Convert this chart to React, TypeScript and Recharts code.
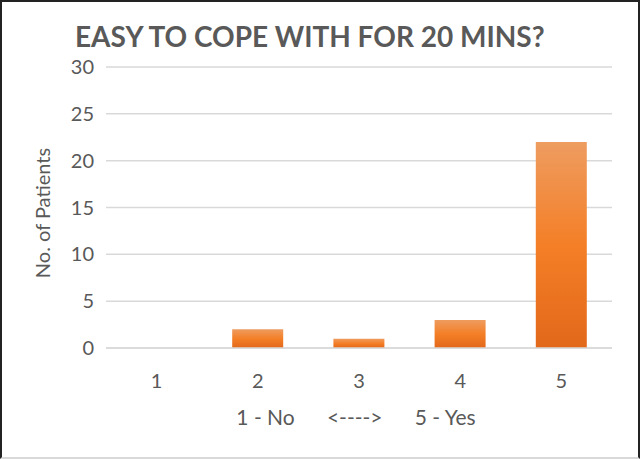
import { BarChart, Bar, XAxis, YAxis, CartesianGrid } from 'recharts'

const categories = ['1', '2', '3', '4', '5']
const patients = [0, 2, 1, 3, 22]
const yTicks = [0, 5, 10, 15, 20, 25, 30]

const data = categories.map((c, i) => ({ score: c, patients: patients[i] }))

const FONT = 'Lato, "Open Sans", sans-serif'
const GREY = '#595959'

export default function App() {
  return (
    <div
      style={{
        position: 'absolute',
        left: 0,
        top: 0,
        width: 640,
        height: 459,
        boxSizing: 'border-box',
        borderTop: '2px solid #222',
        borderLeft: '2px solid #222',
        borderRight: '2px solid #222',
        borderBottom: '2px solid #d9d9d9',
        background: '#fff',
        fontFamily: FONT,
      }}
    >
      <div
        style={{
          position: 'absolute',
          left: 73,
          top: 17,
          fontSize: 28,
          fontWeight: 700,
          color: GREY,
          whiteSpace: 'nowrap',
        }}
      >
        EASY TO COPE WITH FOR 20 MINS?
      </div>
      <div style={{ position: 'absolute', left: -2, top: -2 }}>
        <BarChart
          width={640}
          height={459}
          data={data}
          margin={{ top: 67, right: 28, left: 0, bottom: 31 }}
        >
          <defs>
            <linearGradient id="barFill" x1="0" y1="0" x2="0" y2="1">
              <stop offset="0%" stopColor="#EE9C60" />
              <stop offset="50%" stopColor="#F47F27" />
              <stop offset="100%" stopColor="#E2681A" />
            </linearGradient>
          </defs>
          <CartesianGrid vertical={false} stroke="#d9d9d9" strokeWidth={1.5} />
          <XAxis
            dataKey="score"
            height={80}
            axisLine={{ stroke: '#d9d9d9', strokeWidth: 1.5 }}
            tickLine={false}
            tickSize={0}
            tickMargin={26}
            tick={{ fontSize: 20, fill: GREY, fontFamily: FONT }}
          />
          <YAxis
            width={106}
            domain={[0, 30]}
            ticks={yTicks}
            axisLine={false}
            tickLine={false}
            tickSize={0}
            tickMargin={12}
            tick={{ fontSize: 20, fill: GREY, fontFamily: FONT }}
          />
          <Bar
            dataKey="patients"
            fill="url(#barFill)"
            barSize={51}
            isAnimationActive={false}
          />
          <text
            x={356}
            y={425}
            textAnchor="middle"
            fontSize={21}
            fill={GREY}
            fontFamily={FONT}
            style={{ whiteSpace: 'pre' }}
          >
            {'1 - No      <---->      5 - Yes'}
          </text>
          <text
            x={42}
            y={213}
            transform="rotate(-90 42 213)"
            textAnchor="middle"
            dominantBaseline="central"
            fontSize={20}
            fill={GREY}
            fontFamily={FONT}
          >
            No. of Patients
          </text>
        </BarChart>
      </div>
    </div>
  )
}
